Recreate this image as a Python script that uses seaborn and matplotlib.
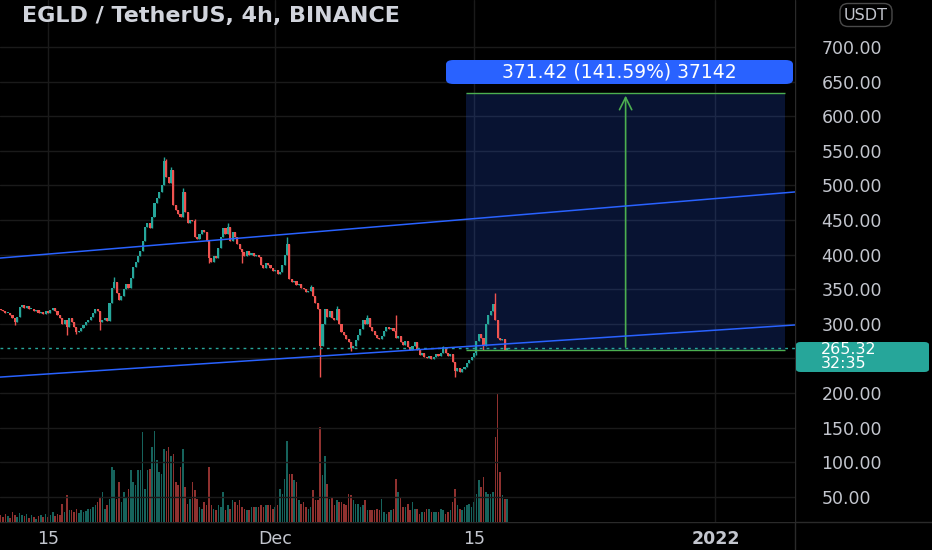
import numpy as np
import pandas as pd
import matplotlib
matplotlib.use('Agg')
import matplotlib.pyplot as plt
import matplotlib.dates as mdates
from matplotlib.patches import FancyBboxPatch, Rectangle
from matplotlib.lines import Line2D
import seaborn as sns

# EGLD/USDT 4h candles (close of each candle)
first_candle = '2021-11-11 16:00'
first_open = 322
closes = [
    320, 318, 315, 316, 312, 308, 302, 310, 325, 327,
    323, 326, 321, 322, 318, 320, 316, 317, 314, 318,
    316, 320, 323, 318, 312, 309, 300, 305, 296, 308,
    302, 295, 288, 290, 294, 298, 303, 306, 310, 316,
    322, 318, 303, 306, 308, 304, 330, 352, 360, 345,
    335, 340, 350, 358, 352, 366, 382, 390, 398, 405,
    420, 440, 446, 438, 455, 475, 482, 490, 500, 535,
    512, 503, 522, 472, 465, 458, 455, 490, 462, 445,
    450, 448, 425, 422, 430, 436, 432, 420, 395, 390,
    398, 395, 410, 425, 438, 430, 440, 420, 432, 425,
    415, 408, 404, 398, 405, 400, 402, 398, 400, 396,
    385, 380, 388, 385, 380, 376, 378, 372, 375, 385,
    400, 415, 365, 360, 362, 356, 358, 352, 350, 346,
    348, 353, 340, 330, 322, 268, 300, 322, 310, 318,
    308, 306, 322, 300, 288, 284, 278, 274, 265, 268,
    276, 284, 292, 305, 300, 308, 296, 290, 284, 280,
    278, 282, 290, 296, 292, 294, 290, 280, 282, 274,
    270, 275, 266, 262, 268, 273, 262, 255, 258, 252,
    250, 254, 249, 252, 256, 253, 258, 266, 258, 254,
    256, 245, 232, 236, 230, 234, 238, 243, 247, 252,
    258, 275, 285, 280, 268, 300, 312, 318, 328, 305,
    280, 276, 278, 262, 265.32,
]
volumes = [
    20, 15, 25, 18, 12, 30, 22, 15, 28, 20,
    18, 25, 12, 20, 15, 10, 18, 22, 14, 25,
    15, 20, 30, 18, 25, 20, 55, 30, 80, 35,
    35, 30, 40, 28, 35, 30, 32, 38, 40, 45,
    50, 60, 75, 90, 40, 50, 70, 165, 155, 70,
    120, 60, 90, 75, 100, 155, 120, 110, 155, 155,
    270, 100, 155, 160, 225, 275, 185, 150, 145, 220,
    215, 225, 200, 205, 120, 110, 165, 220, 105, 55,
    70, 120, 95, 70, 45, 40, 60, 50, 165, 50,
    40, 35, 50, 45, 90, 35, 50, 40, 65, 60,
    50, 65, 45, 40, 35, 35, 45, 45, 45, 45,
    50, 45, 50, 50, 50, 40, 45, 50, 100, 85,
    130, 245, 145, 145, 125, 120, 65, 55, 60, 45,
    40, 45, 95, 65, 65, 285, 140, 200, 115, 70,
    75, 50, 65, 60, 60, 55, 50, 85, 80, 65,
    55, 55, 45, 50, 65, 35, 35, 35, 35, 40,
    35, 70, 30, 25, 30, 35, 40, 130, 90, 75,
    45, 45, 55, 35, 60, 40, 40, 25, 30, 30,
    40, 40, 30, 30, 30, 30, 40, 35, 25, 30,
    35, 60, 100, 50, 40, 35, 45, 50, 55, 45,
    60, 85, 125, 105, 135, 90, 85, 85, 90, 255,
    385, 150, 80, 70, 70,
]
# the visible wicks (candle index -> price)
wick_highs = {48: 367, 69: 541, 70: 538, 72: 526, 77: 496, 82: 452, 96: 446,
              121: 426, 131: 356, 142: 326, 155: 313, 167: 313, 187: 268, 209: 344}
wick_lows = {6: 298, 28: 284, 32: 285, 42: 291, 88: 388, 102: 388, 135: 223,
             148: 260, 192: 223, 201: 255, 204: 262}

# drawings
channel_dates = ['2021-11-11 15:00', '2022-01-06 14:00']
upper_channel = [395, 490.5]
lower_channel = [223, 298.3]
range_dates = ['2021-12-14 10:30', '2022-01-05 22:00']
range_prices = [262.33, 633.75]
range_label = '371.42 (141.59%) 37142'
last_price = 265.32
countdown = '32:35'

price_ticks = [50, 100, 150, 200, 250, 300, 350, 400, 450, 500, 550, 600, 650, 700]
price_labels = ['50.00', '100.00', '150.00', '200.00', '', '300.00', '350.00', '400.00',
                '450.00', '500.00', '550.00', '600.00', '650.00', '700.00']
date_ticks = ['2021-11-15', '2021-12-01', '2021-12-15', '2022-01-01']
date_labels = ['15', 'Dec', '15', '2022']

UP = '#26a69a'
DOWN = '#ef5350'
BLUE = '#2962ff'
GREEN = '#4caf50'
TXT = '#c3c6ce'
GRID = '#1a1a1a'
BG = '#000000'

sns.set_theme(style='dark', rc={'axes.facecolor': BG, 'figure.facecolor': BG})
plt.rcParams['font.family'] = ['DejaVu Sans']

df = pd.DataFrame({'time': pd.date_range(first_candle, periods=len(closes), freq='4h'),
                   'open': [first_open] + closes[:-1], 'close': closes, 'volume': volumes})
df['high'] = df[['open', 'close']].max(axis=1)
df['low'] = df[['open', 'close']].min(axis=1)
for i, v in wick_highs.items():
    df.loc[i, 'high'] = v
for i, v in wick_lows.items():
    df.loc[i, 'low'] = v
df['color'] = np.where(df['close'] >= df['open'], UP, DOWN)
t = mdates.date2num(df['time'])

W, H = 932, 550
fig = plt.figure(figsize=(W / 100, H / 100), dpi=100)
rect = [0, 28 / H, 795 / W, 522 / H]
vax = fig.add_axes(rect)
ax = fig.add_axes(rect)
ax.set_facecolor('none')

px_per_day = 14.2
x0 = mdates.date2num(pd.Timestamp('2021-11-15')) - 48 / px_per_day
x1 = x0 + 795 / px_per_day

# volume underneath
vax.bar(t, df['volume'], width=0.11, color=df['color'], alpha=0.6, linewidth=0)
vax.set_ylim(0, 1570)
vax.set_xlim(x0, x1)
vax.set_yticks([])
vax.set_xticks([])
vax.grid(False)

# grid
for p in price_ticks:
    ax.axhline(p, color=GRID, lw=1, zorder=0)
for d in date_ticks:
    ax.axvline(mdates.date2num(pd.Timestamp(d)), color=GRID, lw=1, zorder=0)

# price range tool
rd = mdates.date2num(pd.to_datetime(range_dates))
ax.add_patch(Rectangle((rd[0], range_prices[0]), rd[1] - rd[0], range_prices[1] - range_prices[0],
                       facecolor=BLUE, alpha=0.2, edgecolor='none', zorder=1))
ax.hlines(range_prices, rd[0], rd[1], color=GREEN, lw=1, zorder=4)
mid = (rd[0] + rd[1]) / 2
ax.annotate('', xy=(mid, range_prices[1]), xytext=(mid, range_prices[0]),
            arrowprops=dict(arrowstyle='->', color=GREEN, lw=1.2, mutation_scale=22), zorder=4)

# candles
ax.vlines(t, df['low'], df['high'], colors=df['color'], lw=1.0, zorder=2)
body = (df['close'] - df['open']).abs().clip(lower=1.5)
ax.bar(t, body, bottom=df[['open', 'close']].min(axis=1), width=0.15,
       color=df['color'], linewidth=0, zorder=3)

# channel
cd = pd.to_datetime(channel_dates)
sns.lineplot(x=cd, y=upper_channel, ax=ax, color=BLUE, lw=1.1, zorder=5)
sns.lineplot(x=cd, y=lower_channel, ax=ax, color=BLUE, lw=1.1, zorder=5)

ax.axhline(last_price, color=UP, lw=1, ls=(0, (2, 3)), zorder=4)

ax.set_xlim(x0, x1)
ax.set_ylim(13.6, 767.9)
ax.yaxis.tick_right()
ax.set_yticks(price_ticks, price_labels)
ax.set_xticks(mdates.date2num(pd.to_datetime(date_ticks)), date_labels)
ax.tick_params(axis='y', length=0, pad=19, labelcolor=TXT, labelsize=12.5)
ax.tick_params(axis='x', length=0, pad=6, labelcolor=TXT, labelsize=12.5)
ax.get_xticklabels()[-1].set_fontweight('bold')
ax.set_xlabel('')
ax.set_ylabel('')
ax.grid(False)
for s in list(ax.spines.values()) + list(vax.spines.values()):
    s.set_visible(False)

# frame separators
fig.add_artist(Line2D([795 / W, 795 / W], [0, 1], color='#2a2a2a', lw=1, zorder=0))
fig.add_artist(Line2D([0, 1], [28 / H, 28 / H], color='#2a2a2a', lw=1, zorder=0))

fig.text(22 / W, 1 - 16 / H, 'EGLD / TetherUS, 4h, BINANCE', color='#d1d4dc',
         fontsize=16, fontweight='bold', ha='left', va='center')
fig.text(866 / W, 1 - 15 / H, 'USDT', color=TXT, fontsize=11.5, ha='center', va='center',
         bbox=dict(boxstyle='round,pad=0.25,rounding_size=0.5', fc='none', ec='#4a4a4a', lw=1))

# range label
fig.add_artist(FancyBboxPatch((446 / W, 1 - 84 / H), 347 / W, 24 / H,
                              boxstyle='round,pad=0,rounding_size=0.008',
                              transform=fig.transFigure, fc=BLUE, ec='none', zorder=5))
fig.text(619 / W, 1 - 72 / H, range_label, color='white', fontsize=13.5, ha='center', va='center',
         zorder=6)

# last price label
fig.add_artist(FancyBboxPatch((796 / W, 1 - 372 / H), 133 / W, 30 / H,
                              boxstyle='round,pad=0,rounding_size=0.005',
                              transform=fig.transFigure, fc=UP, ec='none', zorder=5))
fig.text(821 / W, 1 - 350 / H, f'{last_price:.2f}', color='white', fontsize=11.5,
         ha='left', va='center', zorder=6)
fig.text(821 / W, 1 - 364 / H, countdown, color='white', fontsize=11.5,
         ha='left', va='center', zorder=6)

fig.savefig('out.png', dpi=100, facecolor=BG)
